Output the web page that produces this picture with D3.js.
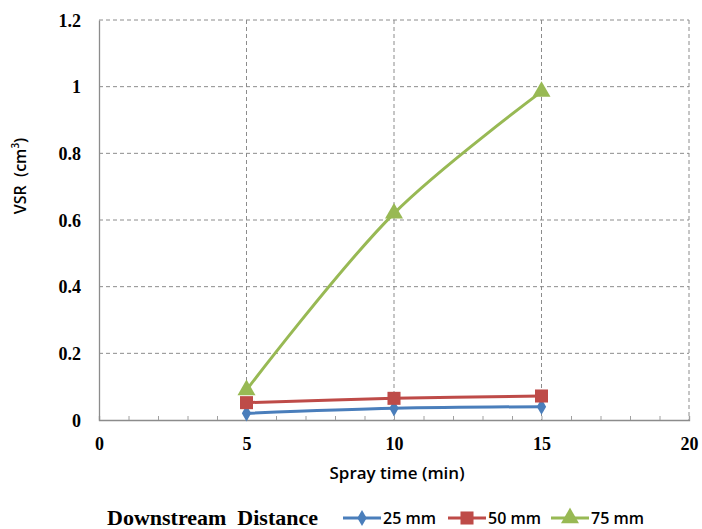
<!DOCTYPE html>
<html><head><meta charset="utf-8">
<script src="https://cdn.jsdelivr.net/npm/d3@7"></script>
<style>body{margin:0;background:#fff}svg{display:block}</style>
</head><body>
<svg id="c" width="702" height="529"></svg>
<script>
const xValues = [5, 10, 15];
const s25 = [0.02, 0.035, 0.04];
const s50 = [0.052, 0.065, 0.072];
const s75 = [0.09, 0.62, 0.985];
const seriesNames = ["25 mm", "50 mm", "75 mm"];
const seriesColors = ["#4a7ebb", "#be4b48", "#98b954"];
const xTicks = [0, 5, 10, 15, 20];
const yTicks = [0, 0.2, 0.4, 0.6, 0.8, 1, 1.2];

const svg = d3.select("#c");
const L = 99, R = 689, T = 20, B = 420;
const x = d3.scaleLinear().domain([0, 20]).range([L, R]);
const y = d3.scaleLinear().domain([0, 1.2]).range([B, T]);

// grid
const g = svg.append("g");
yTicks.filter(d => d > 0).forEach(d => {
  g.append("line").attr("x1", L).attr("x2", R).attr("y1", y(d)).attr("y2", y(d))
   .attr("stroke", "#8c8c8c").attr("stroke-dasharray", "4,3").attr("stroke-width", 1);
});
xTicks.filter(d => d > 0).forEach(d => {
  g.append("line").attr("y1", T).attr("y2", B).attr("x1", x(d)).attr("x2", x(d))
   .attr("stroke", "#8c8c8c").attr("stroke-dasharray", "4,3").attr("stroke-width", 1);
});

// axes
const xAxis = svg.append("g").attr("transform", `translate(0,${B})`)
  .call(d3.axisBottom(x).tickValues(d3.range(0, 21, 1)).tickSize(-4).tickFormat(""));
xAxis.select(".domain").attr("stroke", "#8c8c8c").attr("stroke-width", 1.3);
xAxis.selectAll(".tick line").attr("stroke", "#a0a0a0");
const xLab = svg.append("g").attr("transform", `translate(0,${B})`)
  .call(d3.axisBottom(x).tickValues(xTicks).tickSize(0).tickPadding(17).tickFormat(d3.format("d")));
xLab.select(".domain").remove();
xLab.selectAll("text").attr("font-family", "Liberation Serif").attr("font-weight", "bold")
  .attr("font-size", 18).attr("fill", "#000");

const yAxis = svg.append("g").attr("transform", `translate(${L},0)`)
  .call(d3.axisLeft(y).tickValues(yTicks).tickSize(0).tickPadding(18).tickFormat(d => String(+d.toFixed(1))));
yAxis.select(".domain").attr("stroke", "#8c8c8c").attr("stroke-width", 1.3);
yAxis.selectAll("text").attr("font-family", "Liberation Serif").attr("font-weight", "bold")
  .attr("font-size", 18).attr("fill", "#000").attr("dy", "0.35em");

// titles
svg.append("text").attr("x", 397).attr("y", 479).attr("text-anchor", "middle")
  .attr("font-family", "Open Sans").attr("font-weight", "600").attr("font-size", 17).text("Spray time (min)");
const yt = svg.append("text").attr("transform", "translate(26,176) rotate(-90)").attr("text-anchor", "middle")
  .attr("font-family", "Open Sans").attr("font-weight", "600").attr("font-size", 16).attr("xml:space", "preserve");
yt.append("tspan").text("VSR  (cm");
yt.append("tspan").attr("font-size", 10).attr("dy", -7).text("3");
yt.append("tspan").attr("dy", 7).text(")");

// series
const all = [s25, s50, s75];
const line = d3.line().x(d => x(d[0])).y(d => y(d[1])).curve(d3.curveCatmullRom.alpha(0.5));
const symbols = [d3.symbolDiamond, d3.symbolSquare, d3.symbolTriangle];
const sizes = [75, 170, 140];
all.forEach((vals, i) => {
  const pts = xValues.map((xv, j) => [xv, vals[j]]);
  svg.append("path").datum(pts).attr("d", line).attr("fill", "none")
    .attr("stroke", seriesColors[i]).attr("stroke-width", 3);
  svg.selectAll(null).data(pts).enter().append("path")
    .attr("transform", d => `translate(${x(d[0])},${y(d[1])})`)
    .attr("d", d3.symbol().type(symbols[i]).size(sizes[i])).attr("fill", seriesColors[i]);
});

// legend
const ly = 518;
svg.append("text").attr("x", 107).attr("y", ly + 7).attr("font-family", "Liberation Serif")
  .attr("font-weight", "bold").attr("font-size", 22).attr("xml:space", "preserve").text("Downstream  Distance");
const lx = [343, 448, 551];
seriesNames.forEach((n, i) => {
  svg.append("line").attr("x1", lx[i]).attr("x2", lx[i] + 38).attr("y1", ly).attr("y2", ly)
    .attr("stroke", seriesColors[i]).attr("stroke-width", 3);
  svg.append("path").attr("transform", `translate(${lx[i] + 19},${ly})`)
    .attr("d", d3.symbol().type(symbols[i]).size(sizes[i])).attr("fill", seriesColors[i]);
  svg.append("text").attr("x", lx[i] + 40).attr("y", ly + 6).attr("font-family", "Open Sans")
    .attr("font-weight", "600").attr("font-size", 16).attr("fill", "#000").text(n);
});
</script>
</body></html>
